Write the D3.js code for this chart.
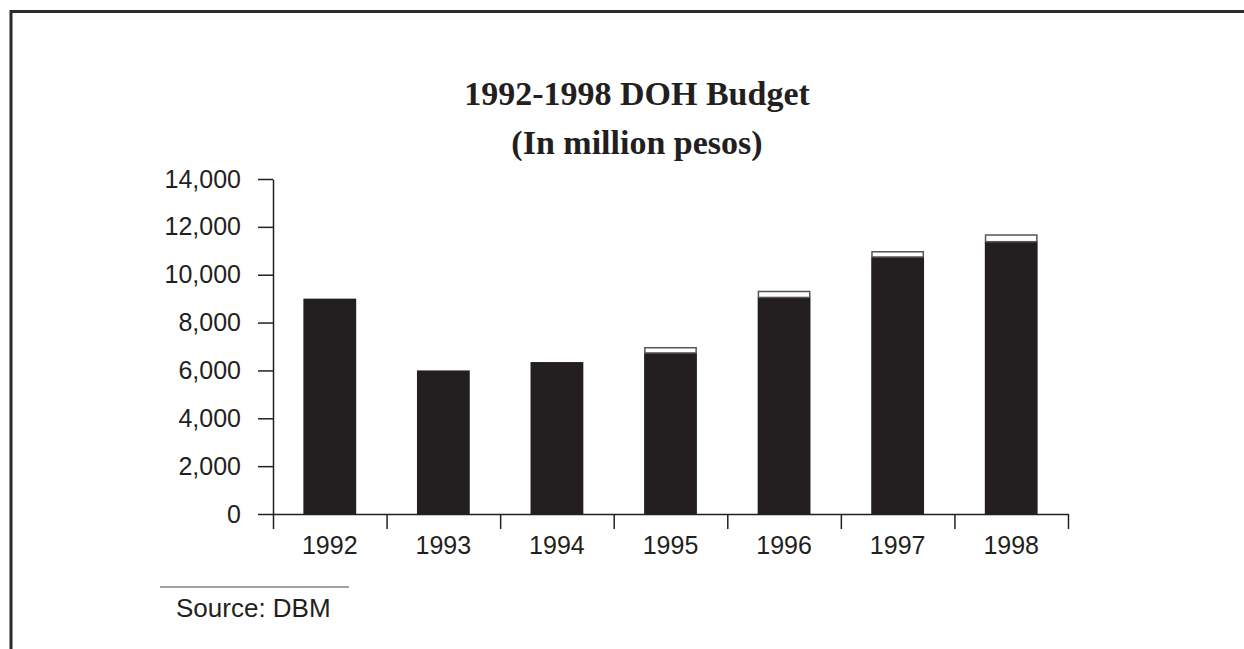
<!DOCTYPE html>
<html lang="en">

<head>
  <meta charset="UTF-8">
  <title>1992-1998 DOH Budget</title>
  <script src="https://d3js.org/d3.v7.min.js"></script>
  <style>
    body { margin: 0; background: #fff; }
    svg { display: block; }
    .tick text, .lbl { font-family: "Liberation Sans", Arial, sans-serif; fill: #231f20; }
    .title { font-family: "Liberation Serif", "Times New Roman", serif; font-weight: bold; fill: #231f20; }
  </style>
</head>

<body>
  <div id="chart"></div>

  <script>
    // data
    var years = ["1992", "1993", "1994", "1995", "1996", "1997", "1998"];
    var baseBudget = [9000, 6000, 6350, 6730, 9050, 10740, 11380];
    var addBudget = [0, 0, 0, 250, 280, 250, 310];
    var yTicks = [0, 2000, 4000, 6000, 8000, 10000, 12000, 14000];

    var width = 1244, height = 649;
    var ink = "#231f20";

    var svg = d3.select("#chart").append("svg")
      .attr("width", width)
      .attr("height", height);

    // frame (left and top only)
    svg.append("path")
      .attr("d", "M11," + height + "V11.5H" + width)
      .attr("fill", "none")
      .attr("stroke", "#2b2b2b")
      .attr("stroke-width", 3);

    // titles
    svg.append("text").attr("class", "title")
      .attr("x", 637).attr("y", 105)
      .attr("text-anchor", "middle")
      .style("font-size", "34px")
      .text("1992-1998 DOH Budget");
    svg.append("text").attr("class", "title")
      .attr("x", 637).attr("y", 154)
      .attr("text-anchor", "middle")
      .style("font-size", "34px")
      .text("(In million pesos)");

    // scales
    var x0 = 273, x1 = 1068, yTop = 179, yBottom = 514;
    var y = d3.scaleLinear().domain([0, 14000]).range([yBottom, yTop]);
    var x = d3.scaleBand().domain(years).range([x0, x1])
      .paddingInner(0.535).paddingOuter(0.2675);
    var xEdge = d3.scaleLinear().domain([0, years.length]).range([x0, x1]);

    // bars
    var rows = years.map(function (yr, i) {
      return { year: yr, base: baseBudget[i], add: addBudget[i] };
    });

    svg.append("g").selectAll("rect")
      .data(rows)
      .enter().append("rect")
      .attr("x", d => x(d.year))
      .attr("width", x.bandwidth())
      .attr("y", d => y(d.base))
      .attr("height", d => y(0) - y(d.base))
      .attr("fill", ink);

    svg.append("g").selectAll("rect")
      .data(rows.filter(d => d.add > 0))
      .enter().append("rect")
      .attr("x", d => x(d.year) + 0.75)
      .attr("width", x.bandwidth() - 1.5)
      .attr("y", d => y(d.base + d.add) + 0.75)
      .attr("height", d => y(d.base) - y(d.base + d.add) - 0.75)
      .attr("fill", "#fff")
      .attr("stroke", "#555")
      .attr("stroke-width", 1.5);

    // y axis
    var yAxis = svg.append("g")
      .attr("transform", "translate(" + x0 + ",0)")
      .call(d3.axisLeft(y).tickValues(yTicks).tickFormat(d3.format(","))
        .tickSize(15).tickSizeOuter(0).tickPadding(17));
    yAxis.selectAll("text").style("font-size", "25px");

    // x axis: ticks at category edges, labels at centres
    var xAxis = svg.append("g")
      .attr("transform", "translate(0," + yBottom + ")")
      .call(d3.axisBottom(xEdge).tickValues(d3.range(0, years.length + 1))
        .tickFormat("").tickSize(15).tickSizeOuter(0));

    svg.selectAll(".domain, .tick line")
      .attr("stroke", ink)
      .attr("stroke-width", 1.5);

    svg.append("g").selectAll("text")
      .data(years)
      .enter().append("text")
      .attr("class", "lbl")
      .attr("x", d => x(d) + x.bandwidth() / 2)
      .attr("y", 554)
      .attr("text-anchor", "middle")
      .style("font-size", "25px")
      .text(d => d);

    // source note
    svg.append("line")
      .attr("x1", 160).attr("x2", 349)
      .attr("y1", 587).attr("y2", 587)
      .attr("stroke", "#444")
      .attr("stroke-width", 1.2);
    svg.append("text").attr("class", "lbl")
      .attr("x", 176).attr("y", 617)
      .style("font-size", "26px")
      .text("Source: DBM");
  </script>

</body>

</html>
